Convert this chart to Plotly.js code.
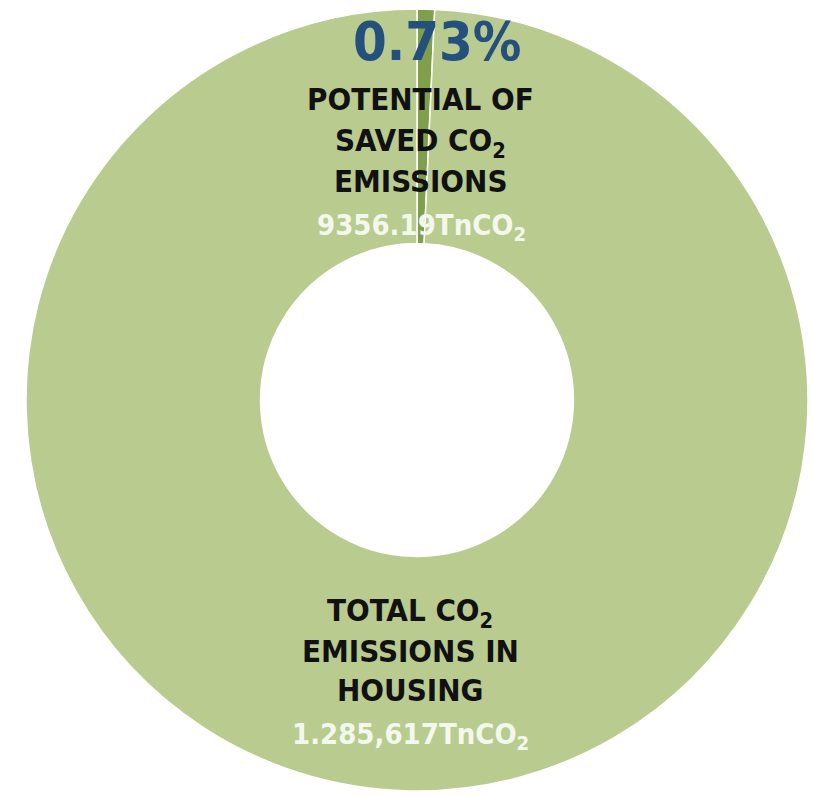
<!DOCTYPE html>
<html>
<head>
<meta charset="utf-8">
<script src="https://cdn.plot.ly/plotly-3.0.1.min.js"></script>
<style>html,body{margin:0;padding:0;background:#fff;}#chart{width:813px;height:795px;}</style>
</head>
<body>
<div id="chart"></div>
<script>
// Data
const categories = ["POTENTIAL OF SAVED CO2 EMISSIONS", "TOTAL CO2 EMISSIONS IN HOUSING"];
const values = [9356.19, 1285617];
const valueLabels = ["9356.19TnCO<sub>2</sub>", "1.285,617TnCO<sub>2</sub>"];
const shareLabel = "0.73%";
const colors = ["#7f9f4b", "#b9cb8f"];

const W = 813, H = 795;
const cx = 417, cy = 400, R = 391;

const trace = {
  type: "pie",
  labels: categories,
  values: values,
  sort: false,
  direction: "clockwise",
  rotation: 0,
  hole: 0.40,
  textinfo: "none",
  hoverinfo: "label+value",
  marker: { colors: colors, line: { color: "#ffffff", width: 1.5 } },
  domain: { x: [(cx - R) / W, (cx + R) / W], y: [(H - cy - R) / H, (H - cy + R) / H] },
  showlegend: false
};

const fontFam = "DejaVu Sans Condensed, Liberation Sans Narrow, Arial, sans-serif";
function px(x) { return x / W; }
function py(y) { return 1 - y / H; }

const annotations = [
  { text: "<b>" + shareLabel + "</b>", x: px(437), y: py(42), font: { family: fontFam, size: 54, color: "#24507e" } },
  { text: "<b>POTENTIAL OF</b>", x: px(420), y: py(99), font: { family: fontFam, size: 31, color: "#111" } },
  { text: "<b>SAVED CO<sub>2</sub></b>", x: px(420), y: py(143), font: { family: fontFam, size: 31, color: "#111" } },
  { text: "<b>EMISSIONS</b>", x: px(420), y: py(181), font: { family: fontFam, size: 31, color: "#111" } },
  { text: "<b>" + valueLabels[0] + "</b>", x: px(422), y: py(227), font: { family: fontFam, size: 29, color: "#f3f8ec" } },
  { text: "<b>TOTAL CO<sub>2</sub></b>", x: px(410), y: py(612), font: { family: fontFam, size: 31, color: "#111" } },
  { text: "<b>EMISSIONS IN</b>", x: px(410), y: py(651), font: { family: fontFam, size: 31, color: "#111" } },
  { text: "<b>HOUSING</b>", x: px(410), y: py(690), font: { family: fontFam, size: 31, color: "#111" } },
  { text: "<b>" + valueLabels[1] + "</b>", x: px(410), y: py(736), font: { family: fontFam, size: 29, color: "#f3f8ec" } }
].map(a => Object.assign({ xref: "paper", yref: "paper", showarrow: false, xanchor: "center", yanchor: "middle" }, a));

const layout = {
  width: W, height: H,
  margin: { l: 0, r: 0, t: 0, b: 0 },
  paper_bgcolor: "#ffffff",
  plot_bgcolor: "#ffffff",
  showlegend: false,
  annotations: annotations
};

Plotly.newPlot("chart", [trace], layout, { displayModeBar: false, staticPlot: true });
</script>
</body>
</html>
